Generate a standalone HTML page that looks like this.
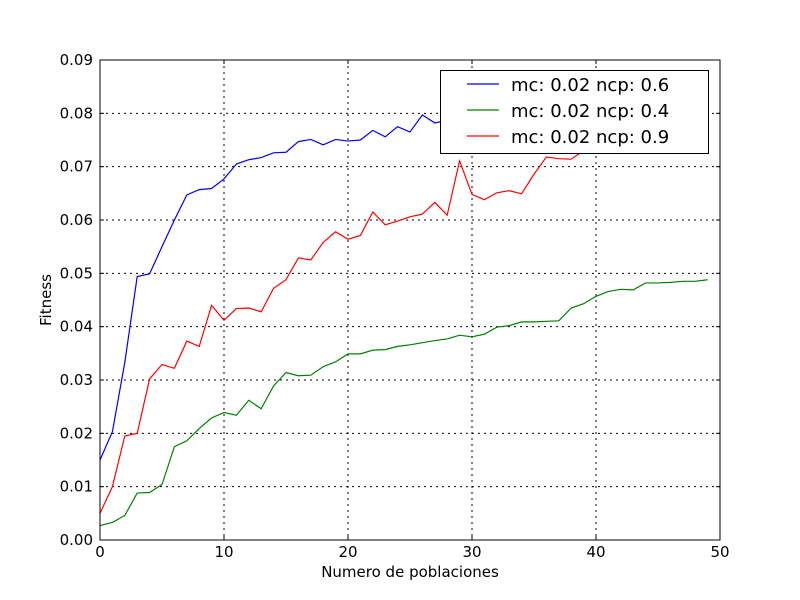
<!DOCTYPE html>
<html><head><meta charset="utf-8"><style>body{margin:0;background:#fff}svg{display:block;font-family:"DejaVu Sans","Liberation Sans",sans-serif}</style></head>
<body>
<svg id="chart" width="800" height="600"></svg>
<script>
const xTicks=[0,10,20,30,40,50];
const yTicks=[0,0.01,0.02,0.03,0.04,0.05,0.06,0.07,0.08,0.09];
const yTickLabels=["0.00","0.01","0.02","0.03","0.04","0.05","0.06","0.07","0.08","0.09"];
const blueVals=[0.0150,0.0203,0.0333,0.0494,0.0499,0.055,0.060,0.0647,0.0657,0.0659,0.0677,0.0705,0.0713,0.0717,0.0726,0.0727,0.0747,0.0751,0.0741,0.0751,0.0748,0.0750,0.0768,0.0756,0.0775,0.0765,0.0797,0.0782,0.0787,0.079,0.080,0.080,0.081,0.081,0.082,0.082,0.082,0.083,0.083,0.083,0.084,0.084,0.084,0.085,0.085,0.085,0.085,0.086,0.086,0.086];
const redVals=[0.0050,0.0100,0.0195,0.0200,0.0302,0.0329,0.0322,0.0373,0.0363,0.0440,0.0412,0.0434,0.0435,0.0428,0.0472,0.0488,0.0529,0.0525,0.0558,0.0578,0.0564,0.0571,0.0615,0.0591,0.0598,0.0606,0.0611,0.0633,0.0609,0.0711,0.0648,0.0638,0.0651,0.0655,0.0649,0.0686,0.0718,0.0715,0.0714,0.0730,0.074,0.075,0.075,0.076,0.076,0.077,0.077,0.078,0.078,0.078];
const greenVals=[0.0027,0.0033,0.0046,0.0088,0.0089,0.0104,0.0175,0.0186,0.0209,0.0229,0.0239,0.0234,0.0262,0.0246,0.0289,0.0314,0.0308,0.0309,0.0325,0.0334,0.0349,0.0349,0.0356,0.0357,0.0363,0.0366,0.0370,0.0374,0.0377,0.0384,0.0381,0.0386,0.0399,0.0402,0.0409,0.0409,0.0410,0.0411,0.0435,0.0443,0.0457,0.0466,0.0470,0.0469,0.0482,0.0482,0.0483,0.0485,0.0485,0.0488];
const legendLabels=["mc: 0.02 ncp: 0.6","mc: 0.02 ncp: 0.4","mc: 0.02 ncp: 0.9"];
const legendColors=["#0000ff","#008000","#ff0000"];

const L=100,R=720,T=60,B=540;
const sx=v=>L+(v-0)/(50-0)*(R-L);
const sy=v=>B-(v-0)/(0.09)*(B-T);
const NS="http://www.w3.org/2000/svg";
const svg=document.getElementById('chart');
function mk(tag,attrs,parent){const e=document.createElementNS(NS,tag);for(const k in attrs)e.setAttribute(k,attrs[k]);(parent||svg).appendChild(e);return e;}

// grid
xTicks.forEach((t,i)=>{
  if(i>0&&i<xTicks.length-1){const g=mk('line',{x1:sx(t),x2:sx(t),y1:T,y2:B,stroke:'#000','stroke-dasharray':'2,4','stroke-width':1});
  
  }
  mk('line',{x1:sx(t),x2:sx(t),y1:B,y2:B-4,stroke:'#000'});
  mk('line',{x1:sx(t),x2:sx(t),y1:T,y2:T+4,stroke:'#000'});
  const tx=mk('text',{x:sx(t),y:B+17,'text-anchor':'middle','font-size':15});tx.textContent=t;
  
  
});
yTicks.forEach((t,i)=>{
  if(i>0&&i<yTicks.length-1){const g=mk('line',{x1:L,x2:R,y1:sy(t),y2:sy(t),stroke:'#000','stroke-dasharray':'2,4','stroke-width':1});
  
  }
  mk('line',{x1:L,x2:L+4,y1:sy(t),y2:sy(t),stroke:'#000'});
  mk('line',{x1:R,x2:R-4,y1:sy(t),y2:sy(t),stroke:'#000'});
  const tx=mk('text',{x:L-7,y:sy(t)+5,'text-anchor':'end','font-size':15});tx.textContent=yTickLabels[i];
  
  
});

function series(vals,color,name){
  const p=mk('polyline',{points:vals.map((v,i)=>sx(i)+','+sy(v)).join(' '),fill:'none',stroke:color,'stroke-width':1.2});
  
  
}
series(blueVals,'#0000ff','series-ncp-0.6');
series(greenVals,'#008000','series-ncp-0.4');
series(redVals,'#ff0000','series-ncp-0.9');

const frame=mk('rect',{x:L,y:T,width:R-L,height:B-T,fill:'none',stroke:'#000','stroke-width':1});



const xl=mk('text',{x:(L+R)/2,y:577,'text-anchor':'middle','font-size':15});xl.textContent='Numero de poblaciones';


const yl=mk('text',{x:51,y:300,'text-anchor':'middle','font-size':15,transform:'rotate(-90 51 300)'});yl.textContent='Fitness';



const lg=mk('g',{});


mk('rect',{x:440.5,y:70.5,width:268,height:83,fill:'#fff',stroke:'#000','stroke-width':1},lg);
legendLabels.forEach((lab,i)=>{
  const y=84+i*26;
  const sw=mk('line',{x1:467,x2:499,y1:y,y2:y,stroke:legendColors[i],'stroke-width':1.2},lg);
  
  
  const t=mk('text',{x:511,y:y+7,'font-size':18},lg);t.textContent=lab;
  
  
});
</script>
</body></html>
